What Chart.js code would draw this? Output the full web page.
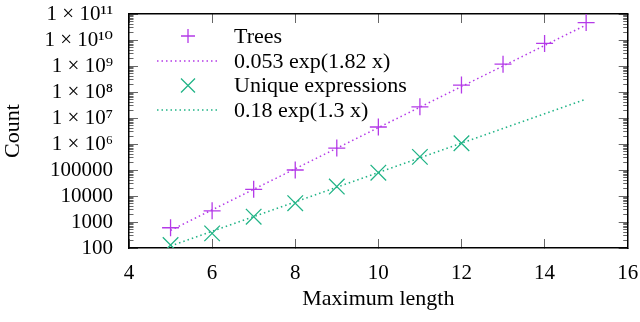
<!DOCTYPE html>
<html lang="en">
<head>
  <meta charset="UTF-8" />
  <title>Trees vs unique expressions</title>
  <script src="https://cdn.jsdelivr.net/npm/chart.js"></script>
  <style>
    html, body { margin: 0; padding: 0; background: #fff; }
    #wrap { width: 640px; height: 322px; }
  </style>
</head>
<body>
  <div id="wrap"><canvas id="chart" width="640" height="322"></canvas></div>

  <script>
    // values
    const lengths = [5, 6, 7, 8, 9, 10, 11, 12, 13, 14, 15];
    const trees = [600, 2700, 18000, 100000, 700000, 4.5e6, 2.7e7, 1.85e8, 1.18e9, 7.4e9, 4.7e10];
    const uniqueLengths = [5, 6, 7, 8, 9, 10, 11, 12];
    const uniqueExpr = [130, 365, 1600, 5300, 23000, 79000, 320000, 1.07e6];
    // fitted curves are straight on a log axis, so their two ends are enough
    const fitX = [5, 15];
    const treesFit = [475, 3.8e10];
    const uniqueFit = [120, 5.3e7];

    const legendNames = ["Trees", "0.053 exp(1.82 x)", "Unique expressions", "0.18 exp(1.3 x)"];
    const xTickValues = [4, 6, 8, 10, 12, 14, 16];
    const yTickValues = [1e2, 1e3, 1e4, 1e5, 1e6, 1e7, 1e8, 1e9, 1e10, 1e11];
    const yTickLabels = ["100", "1000", "10000", "100000", "1 × 10⁶", "1 × 10⁷", "1 × 10⁸", "1 × 10⁹", "1 × 10¹⁰", "1 × 10¹¹"];
    const yMinorValues = [];
    yTickValues.slice(0, -1).forEach(d => { for (let m = 2; m <= 9; m++) yMinorValues.push(m * d); });

    const PURPLE = "#b43ae8";
    const GREEN = "#22b487";
    const FONT = "'Liberation Serif', 'DejaVu Serif', serif";

    const pts = (xs, ys) => xs.map((x, i) => ({ x: x, y: ys[i] }));

    // zero-size helper axes: they draw the box and the inward tick marks
    function tickAxis(position, type, min, max, values, len, withBorder) {
      return {
        type: type, position: position, min: min, max: max,
        weight: -1,
        grid: { display: true, drawOnChartArea: false, drawTicks: true, tickLength: -len, tickColor: "#666", tickWidth: 1 },
        border: { display: withBorder, color: "#000", width: 1.5 },
        ticks: { display: false },
        afterBuildTicks: (s) => { s.ticks = values.map(v => ({ value: v })); },
        afterFit: (s) => {
          if (position === "top" || position === "bottom") s.height = 0; else s.width = 0;
        }
      };
    }

    // key inside the plot, one entry per row
    const keyPlugin = {
      id: "key",
      afterDraw(chart) {
        const ctx = chart.ctx;
        const rowY = [36, 61, 85.5, 110];
        const x0 = 157, x1 = 218, xm = 188, xt = 234;
        ctx.save();
        ctx.font = "22px " + FONT;
        ctx.textBaseline = "middle";
        chart.data.datasets.forEach((ds, i) => {
          const y = rowY[i];
          ctx.strokeStyle = ds.borderColor;
          if (ds.showLine) {
            ctx.lineWidth = ds.borderWidth;
            ctx.setLineDash(ds.borderDash);
            ctx.beginPath(); ctx.moveTo(x0, y); ctx.lineTo(x1, y); ctx.stroke();
            ctx.setLineDash([]);
          } else {
            const r = 7;
            ctx.lineWidth = 1.3;
            ctx.beginPath();
            if (ds.pointStyle === "cross") {
              ctx.moveTo(xm - r, y); ctx.lineTo(xm + r, y);
              ctx.moveTo(xm, y - r); ctx.lineTo(xm, y + r);
            } else {
              ctx.moveTo(xm - r, y - r); ctx.lineTo(xm + r, y + r);
              ctx.moveTo(xm - r, y + r); ctx.lineTo(xm + r, y - r);
            }
            ctx.stroke();
          }
          ctx.fillStyle = "#000";
          ctx.fillText(legendNames[i], xt, y + 1);
        });
        ctx.restore();
      }
    };

    new Chart(document.getElementById("chart"), {
      type: "scatter",
      data: {
        datasets: [
          {
            label: legendNames[0], data: pts(lengths, trees), showLine: false,
            pointStyle: "cross", pointRadius: 8.5, pointBorderWidth: 1.3,
            borderColor: PURPLE, backgroundColor: PURPLE
          },
          {
            label: legendNames[1], data: pts(fitX, treesFit), showLine: true,
            pointRadius: 0, borderWidth: 1.5, borderDash: [1.5, 3],
            borderColor: PURPLE, backgroundColor: PURPLE
          },
          {
            label: legendNames[2], data: pts(uniqueLengths, uniqueExpr), showLine: false,
            pointStyle: "crossRot", pointRadius: 11, pointBorderWidth: 1.3,
            borderColor: GREEN, backgroundColor: GREEN
          },
          {
            label: legendNames[3], data: pts(fitX, uniqueFit), showLine: true,
            pointRadius: 0, borderWidth: 1.5, borderDash: [1.5, 3],
            borderColor: GREEN, backgroundColor: GREEN
          }
        ]
      },
      options: {
        responsive: false,
        animation: false,
        layout: { padding: { top: 14, right: 10, left: 0, bottom: 0 } },
        plugins: {
          legend: { display: false },
          tooltip: { enabled: false }
        },
        scales: {
          x: {
            type: "linear", position: "bottom", min: 4, max: 16, weight: 0,
            grid: { display: false, drawTicks: true, tickLength: 13 },
            border: { display: false },
            afterBuildTicks: (s) => { s.ticks = xTickValues.map(v => ({ value: v })); },
            ticks: { autoSkip: false, maxRotation: 0, padding: 0, color: "#000", font: { family: FONT, size: 21 } },
            title: { display: true, text: "Maximum length", color: "#000", font: { family: FONT, size: 22 }, padding: { top: 0, bottom: 10 } },
            afterFit: (s) => { s.height = 74; }
          },
          y: {
            type: "logarithmic", position: "left", min: 100, max: 1e11, weight: 0,
            grid: { display: false, drawTicks: true, tickLength: 16 },
            border: { display: false },
            afterBuildTicks: (s) => { s.ticks = yTickValues.map(v => ({ value: v })); },
            ticks: {
              autoSkip: false, padding: 0, color: "#000", font: { family: FONT, size: 21 },
              callback: (v) => yTickLabels[yTickValues.indexOf(v)]
            },
            title: { display: true, text: "Count", color: "#000", font: { family: FONT, size: 22 }, padding: { top: 0, bottom: 0 } },
            afterFit: (s) => { s.width = 129; }
          },
          xBottom: tickAxis("bottom", "linear", 4, 16, xTickValues, 9, true),
          xTop: tickAxis("top", "linear", 4, 16, xTickValues, 9, true),
          yLeft: tickAxis("left", "logarithmic", 100, 1e11, yTickValues, 9, true),
          yLeftMinor: tickAxis("left", "logarithmic", 100, 1e11, yMinorValues, 4.5, false),
          yRight: tickAxis("right", "logarithmic", 100, 1e11, yTickValues, 9, true),
          yRightMinor: tickAxis("right", "logarithmic", 100, 1e11, yMinorValues, 4.5, false)
        }
      },
      plugins: [keyPlugin]
    });
  </script>
</body>
</html>
